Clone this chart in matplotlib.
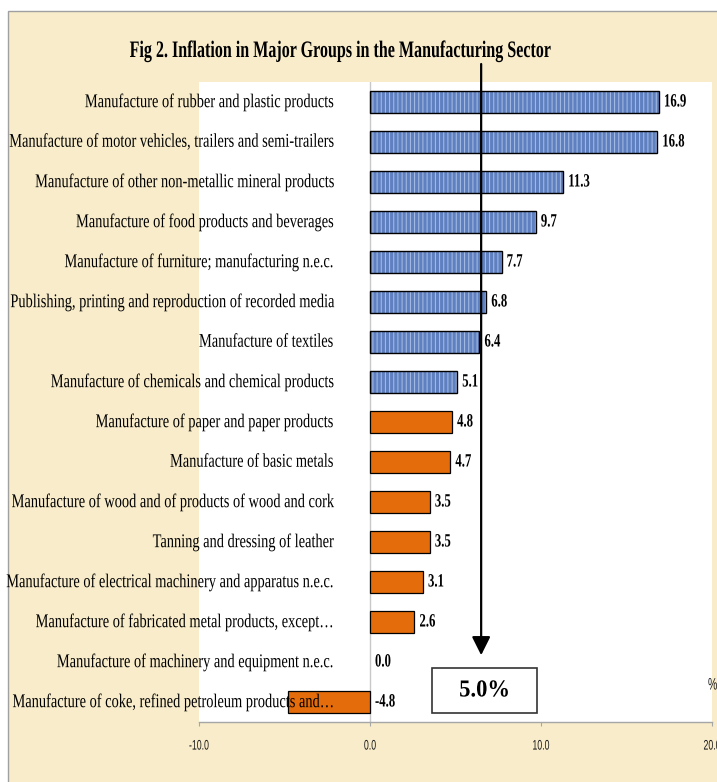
import numpy as np
import matplotlib
matplotlib.use("Agg")
import matplotlib.pyplot as plt
from matplotlib.patches import Rectangle
from matplotlib.patheffects import AbstractPathEffect
from matplotlib.transforms import Affine2D

# ---------------- data ----------------
categories = [
    "Manufacture of rubber and plastic products",
    "Manufacture of motor vehicles, trailers and semi-trailers",
    "Manufacture of other non-metallic mineral products",
    "Manufacture of food products and beverages",
    "Manufacture of furniture; manufacturing n.e.c.",
    "Publishing, printing and reproduction of recorded media",
    "Manufacture of textiles",
    "Manufacture of chemicals and chemical products",
    "Manufacture of paper and paper products",
    "Manufacture of basic metals",
    "Manufacture of wood and of products of wood and cork",
    "Tanning and dressing of leather",
    "Manufacture of electrical machinery and apparatus n.e.c.",
    "Manufacture of fabricated metal products, except\u2026",
    "Manufacture of machinery and equipment n.e.c.",
    "Manufacture of coke, refined petroleum products and\u2026",
]
values = [16.9, 16.8, 11.3, 9.7, 7.7, 6.8, 6.4, 5.1,
          4.8, 4.7, 3.5, 3.5, 3.1, 2.6, 0.0, -4.8]
overall = 5.0
x_ticks = [-10.0, 0.0, 10.0, 20.0]
title = "Fig 2. Inflation in Major Groups in the Manufacturing Sector"
unit = "%"

# ---------------- helpers ----------------
class TallGlyphs(AbstractPathEffect):
    """Stretch glyph outlines vertically (condensed look) about a level
    given as a fraction of the em above the baseline."""
    def __init__(self, sy, level=0.25):
        super().__init__()
        self.sy = sy
        self.level = level

    def draw_path(self, renderer, gc, tpath, affine, rgbFace=None):
        yp = 100.0 * self.level  # text paths are built with em = 100 units
        t = Affine2D().translate(0, -yp).scale(1, self.sy).translate(0, yp) + affine
        renderer.draw_path(gc, tpath, t, rgbFace)


def condensed(text, size, ratio, level=0.25):
    """Draw `text` at width of size*ratio but glyph height of `size`."""
    text.set_fontsize(size * ratio)
    text.set_path_effects([TallGlyphs(1.0 / ratio, level)])
    return text


SERIF = ["Liberation Serif", "DejaVu Serif"]
SANS = ["Liberation Sans", "DejaVu Sans"]
PARCH = "#f8ecca"
BLUE = "#5f80c0"
BLUE_TEX = "#a9bfe6"
ORANGE = "#e46c0a"

plt.rcParams["hatch.linewidth"] = 0.7

W, H = 717, 782
fig = plt.figure(figsize=(W / 100, H / 100), dpi=100, facecolor="white")

# parchment panel with grey frame
fig.patches.append(Rectangle((7.5 / W, -0.02), 1.1, (H - 11.5) / H + 0.02,
                             transform=fig.transFigure, facecolor=PARCH,
                             edgecolor="#a0a0a0", linewidth=1.0, zorder=-5))

ax = fig.add_axes([199 / W, (H - 722) / H, 513 / W, 640 / H])
ax.set_facecolor("white")
ax.set_zorder(1)

n = len(categories)
ypos = np.arange(n)
vals = np.array(values)
above = vals > overall

# blue (above average) bars: fill, texture, outline
ax.barh(ypos[above], vals[above], height=0.56, color=BLUE, edgecolor="none", zorder=2)
ax.barh(ypos[above], vals[above], height=0.56, color="none", edgecolor=BLUE_TEX,
        hatch="||||", linewidth=0, zorder=2.1)
ax.barh(ypos[above], vals[above], height=0.56, color="none", edgecolor="black",
        linewidth=1.0, zorder=2.2)
# orange (below average) bars
low = ~above
ax.barh(ypos[low], vals[low], height=0.56, color=ORANGE, edgecolor="black",
        linewidth=[0 if v == 0 else 0.9 for v in vals[low]], zorder=2)

ax.axvline(0, color="#c8c8c8", linewidth=1.0, zorder=1)

ax.set_xlim(x_ticks[0], x_ticks[-1])
ax.set_ylim(n - 0.5, -0.5)
ax.set_yticks([])
for s in ("left", "right", "top"):
    ax.spines[s].set_visible(False)
ax.spines["bottom"].set_color("#a6a6a6")
ax.spines["bottom"].set_linewidth(1.0)
ax.set_xticks(x_ticks)
ax.set_xticklabels([f"{t:.1f}" for t in x_ticks])
ax.tick_params(axis="x", direction="out", length=3, width=0.8, color="#a6a6a6",
               pad=10.5, labelcolor="#1a1a1a")
for lbl in ax.get_xticklabels():
    lbl.set_family(SANS)
    condensed(lbl, 10, 0.63, level=0.36)

# category labels next to the zero line
for i, (cat, v) in enumerate(zip(categories, values)):
    t = ax.annotate(cat, xy=(0, i), xytext=(-37, 0), textcoords="offset pixels",
                    ha="right", va="center", family=SERIF,
                    color="black", zorder=6)
    condensed(t, 14, 0.74)
    vt = ax.annotate(f"{v:.1f}", xy=(max(v, 0), i), xytext=(5, 0),
                     textcoords="offset pixels", ha="left", va="center",
                     fontweight="bold", family=SERIF,
                     color="black", zorder=6)
    condensed(vt, 13.5, 0.68)

# arrow marking the overall figure
ARROW_X = 6.5
ax.annotate("", xy=(ARROW_X, 13.83), xytext=(ARROW_X, -0.95),
            arrowprops=dict(arrowstyle="-|>,head_length=0.8,head_width=0.4",
                            mutation_scale=14, lw=1.6, color="black",
                            shrinkA=0, shrinkB=0),
            annotation_clip=False, zorder=7)

# box with overall value
ax.add_patch(Rectangle((3.63, 14.15), 6.15, 1.125, facecolor="white",
                       edgecolor="#333333", linewidth=1.2, zorder=7))
bt = ax.text(3.63 + 6.15 / 2, 14.15 + 1.125 / 2, f"{overall:.1f}%",
             ha="center", va="center", fontweight="bold",
             family=SERIF, zorder=8)
condensed(bt, 17.5, 0.93)

# title
tt = fig.text(340 / W, 1 - 57 / H, title, ha="center", va="baseline",
              fontweight="bold", family=SERIF)
condensed(tt, 17, 0.68, level=0.0)

# unit label at right edge
ut = fig.text(708 / W, 1 - 685 / H, unit, ha="left", va="center",
              family=SANS, color="#1a1a1a")
condensed(ut, 12, 0.63)

fig.savefig("out.png", dpi=100, facecolor=fig.get_facecolor())
